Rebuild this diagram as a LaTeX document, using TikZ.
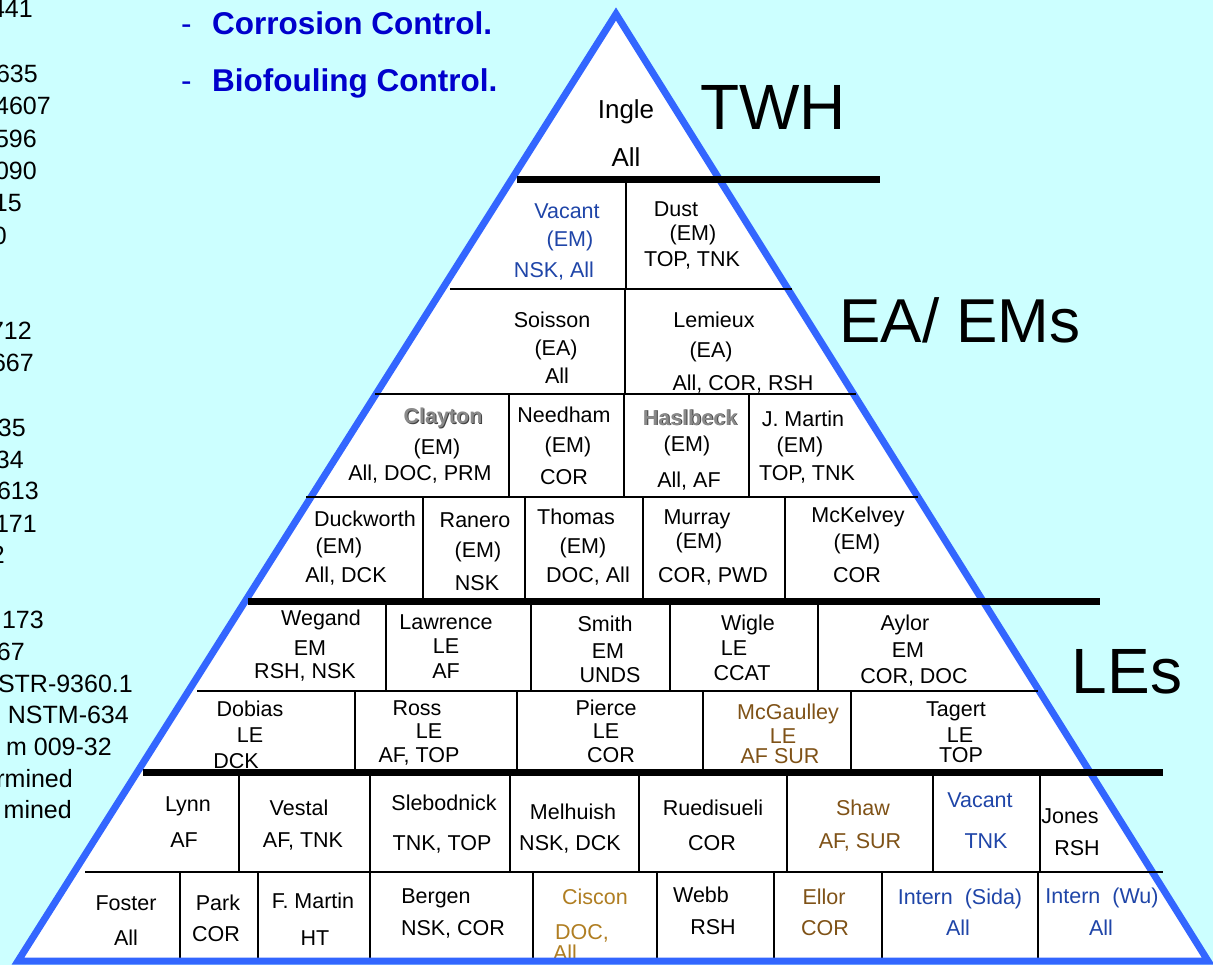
\documentclass[tikz,border=0pt]{standalone}
\usepackage{fontspec}
\setmainfont{Liberation Sans}
\definecolor{slidecyan}{HTML}{CCFFFF}
\definecolor{pyramidblue}{HTML}{3366FF}
\definecolor{headingblue}{HTML}{0000CC}
\definecolor{vacantblue}{HTML}{1F45A8}
\definecolor{staffbrown}{HTML}{7F5217}
\definecolor{cisconbrown}{HTML}{B07E22}
\definecolor{namegray}{HTML}{8A8A8A}
\definecolor{namegrayshadow}{HTML}{404040}
\newcommand{\shadowname}[1]{\textbf{\rlap{\textcolor{namegrayshadow}{\kern1pt\raisebox{-1pt}{#1}}}\textcolor{namegray}{#1}}}

\begin{document}
\begin{tikzpicture}[x=1pt, y=-1pt,
    entry/.style={anchor=base, inner sep=0pt, font=\fontsize{21.5}{26}\selectfont},
    toptier/.style={entry, font=\fontsize{26}{30}\selectfont},
    tiertag/.style={anchor=base, inner sep=0pt, font=\fontsize{64}{72}\selectfont},
    refline/.style={anchor=base east, inner sep=0pt, font=\fontsize{25}{30}\selectfont},
    heading/.style={anchor=base west, inner sep=0pt, text=headingblue,
      font=\bfseries\fontsize{31.5}{36}\selectfont},
    pyramid/.style={draw=pyramidblue, line width=7pt, line join=miter},
    tierbar/.style={line width=7pt},
    cellrule/.style={line width=2pt}
  ]
  \useasboundingbox (0,0) rectangle (1213,965);
  \fill[slidecyan] (0,0) rectangle (1213,965);

  % cut-off reference list on the left
  \foreach \x/\y/\t [count=\i] in {33/18/441, 38/83/635, 51/115/4607, 37/148/596,
      37/180/090, 22/212/15, 7/245/0, 32/340/712, 34/372/667, 26/437/35,
      24/468/34, 39/499/613, 37/532/171, 5/563/2, 44/628/173, 25/660/67,
      133/692/STR-9360.1, 129/723/NSTM-634, 112/755/m 009-32, 73/787/rmined,
      72/818/mined}
    \node[refline] (ref-\i) at (\x,\y) {\t};

  \node[heading, font=\fontsize{31.5}{36}\selectfont] (dash1) at (181,35) {-};
  \node[heading] (corrosion) at (212,35) {Corrosion Control.};
  \node[heading, font=\fontsize{31.5}{36}\selectfont] (dash2) at (181,92) {-};
  \node[heading] (biofouling) at (212,92) {Biofouling Control.};

  \coordinate (apex) at (616,14);
  \coordinate (baseL) at (18,961);
  \coordinate (baseR) at (1208,961);
  \fill[white] (apex) -- (baseR) -- (baseL) -- cycle;

  % TWH
  \node[toptier] (ingle) at (626,119) {Ingle};
  \node[toptier] (ingleall) at (626,167) {All};

  % EA / EMs
  \foreach \x/\y/\c/\t [count=\i] in {
      567/219/vacantblue/Vacant, 570/247/vacantblue/(EM), 554/278/vacantblue/{NSK, All},
      676/217/black/Dust, 693/241/black/(EM), 692/267/black/{TOP, TNK}}
    \node[entry, text=\c] (ema-\i) at (\x,\y) {\t};
  \foreach \x/\y/\c/\t [count=\i] in {
      552/328/black/Soisson, 556/356/black/(EA), 557/384/black/All,
      714/328/black/Lemieux, 711/358/black/(EA), 743/391/black/{All, COR, RSH}}
    \node[entry, text=\c] (ea-\i) at (\x,\y) {\t};
  \foreach \x/\y/\c/\t [count=\i] in {
      443/424/black/\shadowname{Clayton}, 437/454/black/(EM), 420/480/black/{All, DOC, PRM},
      564/423/black/Needham, 568/453/black/(EM), 564/484/black/COR,
      690/425/black/\shadowname{Haslbeck}, 687/451/black/(EM), 689/487/black/{All, AF},
      803/427/black/J. Martin, 800/453/black/(EM), 807/480/black/{TOP, TNK}}
    \node[entry, text=\c] (emb-\i) at (\x,\y) {\t};
  \foreach \x/\y/\c/\t [count=\i] in {
      365/526/black/Duckworth, 339/553/black/(EM), 346/582/black/{All, DCK},
      475/527/black/Ranero, 478/557/black/(EM), 477/590/black/NSK,
      576/524/black/Thomas, 583/553/black/(EM), 588/582/black/{DOC, All},
      697/524/black/Murray, 699/548/black/(EM), 713/582/black/{COR, PWD},
      858/522/black/McKelvey, 857/549/black/(EM), 857/582/black/COR}
    \node[entry, text=\c] (emc-\i) at (\x,\y) {\t};

  % LEs
  \foreach \x/\y/\c/\t [count=\i] in {
      321/625/black/Wegand, 310/655/black/EM, 305/678/black/{RSH, NSK},
      446/629/black/Lawrence, 446/653/black/LE, 446/678/black/AF,
      605/631/black/Smith, 608/658/black/EM, 610/682/black/UNDS,
      748/630/black/Wigle, 734/655/black/LE, 742/680/black/CCAT,
      905/630/black/Aylor, 908/657/black/EM, 914/683/black/{COR, DOC}}
    \node[entry, text=\c] (lea-\i) at (\x,\y) {\t};
  \foreach \x/\y/\c/\t [count=\i] in {
      250/716/black/Dobias, 250/742/black/LE, 236/768/black/DCK,
      417/715/black/Ross, 429/738/black/LE, 419/762/black/{AF, TOP},
      606/715/black/Pierce, 606/738/black/LE, 611/762/black/COR,
      788/719/staffbrown/McGaulley, 783/743/staffbrown/LE, 780/763/staffbrown/AF SUR,
      956/716/black/Tagert, 960/742/black/LE, 961/762/black/TOP}
    \node[entry, text=\c] (leb-\i) at (\x,\y) {\t};
  \foreach \x/\y/\c/\t [count=\i] in {
      188/811/black/Lynn, 184/847/black/AF,
      299/815/black/Vestal, 303/847/black/{AF, TNK},
      444/810/black/Slebodnick, 442/850/black/{TNK, TOP},
      573/819/black/Melhuish, 570/850/black/{NSK, DCK},
      713/815/black/Ruedisueli, 712/850/black/COR,
      863/815/staffbrown/Shaw, 860/848/staffbrown/{AF, SUR},
      980/807/vacantblue/Vacant, 986/848/vacantblue/TNK,
      1070/823/black/Jones, 1077/855/black/RSH}
    \node[entry, text=\c] (staff-\i) at (\x,\y) {\t};
  \foreach \x/\y/\c/\t [count=\i] in {
      126/910/black/Foster, 126/945/black/All,
      218/910/black/Park, 216/941/black/COR,
      313/908/black/F. Martin, 315/945/black/HT,
      436/903/black/Bergen, 453/935/black/{NSK, COR},
      595/904/cisconbrown/Ciscon, 582/939/cisconbrown/{DOC,}, 565/960/cisconbrown/All,
      701/902/black/Webb, 713/934/black/RSH,
      824/904/staffbrown/Ellor, 825/935/staffbrown/COR,
      960/904/vacantblue/Intern\ \ (Sida), 958/935/vacantblue/All,
      1102/903/vacantblue/Intern\ \ (Wu), 1101/935/vacantblue/All}
    \node[entry, text=\c] (support-\i) at (\x,\y) {\t};

  % cell walls
  \draw[cellrule] (626,183) -- (626,289);
  \draw[cellrule] (625,289) -- (625,394);
  \foreach \x in {509,624,749} \draw[cellrule] (\x,394) -- (\x,497);
  \foreach \x in {423,525,643,785} \draw[cellrule] (\x,497) -- (\x,601);
  \foreach \x in {386,531,670,818} \draw[cellrule] (\x,601) -- (\x,691);
  \foreach \x in {355,517,703,851} \draw[cellrule] (\x,691) -- (\x,772);
  \foreach \x in {239,370,510,639,787,933,1040} \draw[cellrule] (\x,772) -- (\x,872);
  \foreach \x in {180,258,370,533,657,774,882,1038} \draw[cellrule] (\x,872) -- (\x,961);

  \draw[pyramid] (apex) -- (baseR) -- (baseL) -- cycle;

  % row rules and tier bars
  \draw[cellrule] (450,289) -- (792,289);
  \draw[cellrule] (375,394) -- (856,394);
  \draw[cellrule] (306,497) -- (918,497);
  \draw[cellrule] (197,691) -- (1038,691);
  \draw[cellrule] (85,872) -- (1163,872);
  \draw[tierbar] (517,180) -- (880,180);
  \draw[tierbar] (248,601) -- (1100,601);
  \draw[tierbar] (143,772) -- (1163,772);

  \node[tiertag] (twh) at (773,130) {TWH};
  \node[tiertag, font=\fontsize{62}{70}\selectfont] (eaems) at (960,343) {EA/ EMs};
  \node[tiertag] (les) at (1127,693) {LEs};
\end{tikzpicture}
\end{document}
